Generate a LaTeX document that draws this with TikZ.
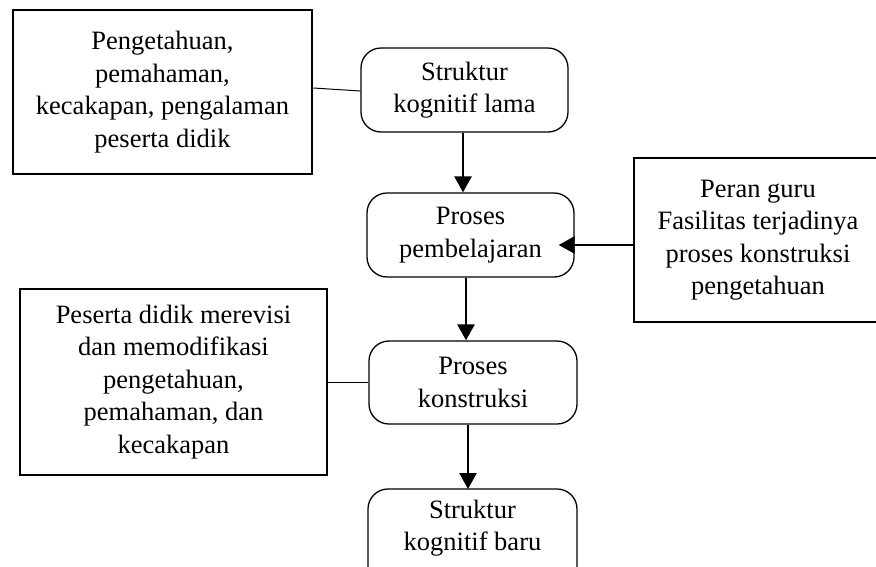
\documentclass[tikz,border=0pt]{standalone}
\usepackage{fontspec}
\setmainfont{Liberation Serif}
\usetikzlibrary{arrows.meta,calc}
\begin{document}
\begin{tikzpicture}[x=1pt,y=-1pt,
  every node/.style={font=\fontsize{26.5}{32.5}\selectfont, align=center, inner sep=0pt},
  sqbox/.style={draw, line width=2.8pt, rectangle},
  rndbox/.style={draw, line width=1.3pt, rectangle, rounded corners=20pt},
  frame/.style={line width=1.3pt, rounded corners=20pt},
  arr/.style={line width=2.6pt, -{Triangle[width=17pt,length=16pt]}},
  link/.style={line width=1pt}]
\useasboundingbox (0,0) rectangle (876,566);
\clip (0,0) rectangle (876,566);
% left/right boxes
\node[sqbox, minimum width=299pt, minimum height=164pt] (a) at (162.5,92)
  {Pengetahuan,\\pemahaman,\\kecakapan, pengalaman\\peserta didik};
\node[sqbox, minimum width=248pt, minimum height=164pt] (d) at (758,240)
  {Peran guru\\Fasilitas terjadinya\\proses konstruksi\\pengetahuan};
\node[sqbox, minimum width=307pt, minimum height=186pt] (f) at (173.5,382)
  {Peserta didik merevisi\\dan memodifikasi\\pengetahuan,\\pemahaman, dan\\kecakapan};
% central flow
\node[rndbox, minimum width=207pt, minimum height=84pt] (b) at (464.5,90)
  {Struktur\\kognitif lama};
\node[rndbox, minimum width=207pt, minimum height=84pt] (c) at (470.5,235)
  {Proses\\pembelajaran};
\node[rndbox, minimum width=208pt, minimum height=83pt] (e) at (473,382.5)
  {Proses\\konstruksi};
\node (g) at (472.5,528) {Struktur\\kognitif baru};
\draw[frame] ($(g.center)+(-104.5,-39)$) rectangle ($(g.center)+(104.5,66)$);
\coordinate (gtop) at ($(g.center)+(0,-39)$);
% connectors
\draw[link] ([yshift=4pt]a.east) -- ([yshift=-1pt]b.west);
\draw[link] (f.east |- e.west) -- (e.west);
\draw[arr] ([xshift=-1.5pt]b.south) -- ([xshift=-1.5pt]b.south |- c.north);
\draw[arr] ([xshift=-4.5pt]c.south) -- ([xshift=-4.5pt]c.south |- e.north);
\draw[arr] ([xshift=-5pt]e.south) -- ([xshift=-5pt]e.south |- gtop);
\draw[arr] ([yshift=-5pt]d.west) -- ([yshift=-5pt,xshift=-16pt]d.west -| c.east);
\end{tikzpicture}
\end{document}
